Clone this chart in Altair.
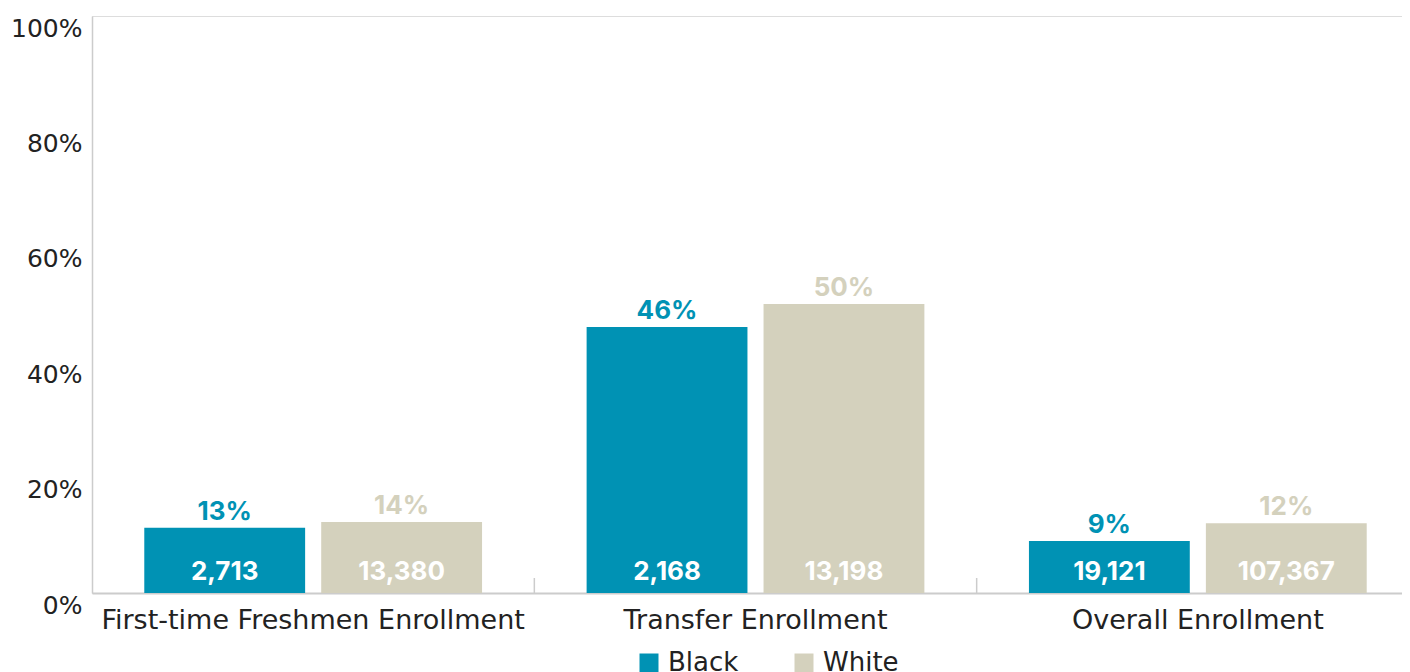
import altair as alt
import pandas as pd

categories = ["First-time Freshmen Enrollment", "Transfer Enrollment", "Overall Enrollment"]
groups = ["Black", "White"]
black_pct = [11.3, 46.1, 9.0]
white_pct = [12.3, 50.1, 12.1]
black_pct_label = ["13%", "46%", "9%"]
white_pct_label = ["14%", "50%", "12%"]
black_count = ["2,713", "2,168", "19,121"]
white_count = ["13,380", "13,198", "107,367"]

TEAL = "#0092B4"
BEIGE = "#D4D1BD"
FONT = "DejaVu Sans"
BFONT = "Inter"

rows = []
for i, c in enumerate(categories):
    rows.append(dict(cat=c, grp="Black", pct=black_pct[i], plabel=black_pct_label[i], count=black_count[i]))
    rows.append(dict(cat=c, grp="White", pct=white_pct[i], plabel=white_pct_label[i], count=white_count[i]))
df = pd.DataFrame(rows)

sep_df = pd.DataFrame({"cat": categories[1:]})

xscale = alt.Scale(domain=categories, paddingInner=0, paddingOuter=0, range=[0, 1327])
xoff_scale = alt.Scale(domain=groups, paddingInner=0.0909, paddingOuter=0.2955)
yscale = alt.Scale(domain=[0, 100], nice=False)
cscale = alt.Scale(domain=groups, range=[TEAL, BEIGE])

x_enc = alt.X("cat:N", scale=xscale, sort=categories,
              axis=alt.Axis(title=None, labelAngle=0, labelAlign="center", labelBaseline="top",
                            ticks=False, labelFontSize=27,
                            labelColor="#222222", labelFont=FONT, labelPadding=14, labelLimit=0,
                            domainColor="#cccccc", domainWidth=2))
y_enc = alt.Y("pct:Q", scale=yscale,
              axis=alt.Axis(title=None, values=[0, 20, 40, 60, 80, 100], grid=False, ticks=False,
                            labelExpr="datum.value + '%'", labelFontSize=25, labelColor="#222222",
                            labelFont=FONT, labelAlign="right", labelBaseline="top", labelPadding=10,
                            domainColor="#cccccc", domainWidth=1.5))

base = alt.Chart(df).encode(
    x=x_enc,
    xOffset=alt.XOffset("grp:N", scale=xoff_scale, sort=groups),
)

bars = base.mark_bar().encode(
    y=y_enc,
    color=alt.Color("grp:N", scale=cscale, sort=groups,
                    legend=alt.Legend(title=None, orient="none", legendX=544, legendY=634,
                                      direction="horizontal",
                                      symbolType="square", symbolSize=361, symbolStrokeWidth=0,
                                      labelFontSize=26, labelFont=FONT, labelColor="#222222",
                                      labelOffset=6, columnPadding=52)),
)

pct_text = base.mark_text(baseline="bottom", dy=-3, fontSize=26, fontWeight="bold", font=BFONT).encode(
    y=alt.Y("pct:Q", scale=yscale),
    text="plabel:N",
    color=alt.Color("grp:N", scale=cscale, sort=groups, legend=None),
)

count_text = base.mark_text(baseline="bottom", dy=-8, fontSize=26, fontWeight="bold", font=BFONT,
                            color="white").encode(
    y=alt.datum(0),
    text="count:N",
)

seps = alt.Chart(sep_df).mark_rule(color="#cccccc", strokeWidth=1.5).encode(
    x=alt.X("cat:N", scale=xscale, sort=categories, bandPosition=0),
    y=alt.datum(0),
    y2=alt.datum(2.6),
)

chart = alt.layer(seps, bars, pct_text, count_text).properties(
    width=1310, height=577,
    autosize=alt.AutoSizeParams(type="none"),
    padding={"top": 8, "left": 84, "right": 0, "bottom": 90},
).configure_view(stroke=None).configure(background="white")

chart.save("out.html", embed_options={"renderer": "svg", "actions": False})
